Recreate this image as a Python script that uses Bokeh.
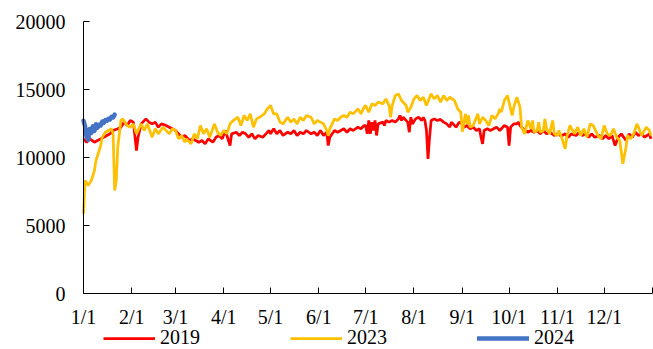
from bokeh.plotting import figure
from bokeh.models import Range1d, FixedTicker, Legend, LegendItem
from bokeh.embed import file_html
from bokeh.resources import INLINE

# ---- data (day of year, 0 = 1/1) ----
day_2019 = [0, 2, 4, 7, 9, 11, 13, 15, 17, 19, 22, 24, 26, 28, 30, 32, 34, 35, 37, 40,
            42, 44, 46, 48, 50, 53, 55, 57, 59, 61, 63, 65, 68, 70, 72, 74, 76, 78, 80, 83,
            85, 87, 89, 91, 93, 94, 95, 98, 100, 102, 104, 106, 108, 110, 112, 115, 117, 119, 120, 122,
            124, 126, 128, 131, 133, 135, 137, 139, 141, 143, 146, 148, 150, 152, 154, 156, 157, 158, 161, 163,
            165, 167, 169, 171, 173, 176, 178, 180, 181, 182, 183, 184, 185, 186, 187, 188, 189, 192, 193, 194,
            196, 198, 200, 202, 203, 204, 205, 208, 209, 210, 211, 213, 215, 217, 218, 219, 220, 221, 222, 223,
            225, 227, 229, 231, 233, 235, 236, 239, 241, 243, 244, 246, 248, 250, 252, 254, 255, 256, 257, 259,
            261, 263, 265, 267, 270, 272, 273, 274, 276, 278, 279, 280, 282, 285, 287, 289, 291, 293, 295, 297,
            299, 302, 304, 306, 307, 309, 311, 313, 316, 318, 320, 322, 324, 326, 328, 331, 333, 335, 337, 339,
            341, 343, 345, 348, 350, 352, 354, 356, 358, 360, 363, 364]
val_2019 = [11370, 11125, 11370, 11125, 11250, 11370, 11490, 11620, 11740, 11985, 12110, 12230, 12600, 12350, 12720, 12600, 10510, 11490, 12470, 12840,
            12600, 12470, 12600, 12230, 12470, 12350, 12230, 12110, 11985, 11740, 11490, 11620, 11250, 11370, 11250, 11125, 11250, 11000, 11370, 11125,
            11490, 11620, 11370, 11985, 11250, 10880, 11740, 11860, 11620, 11860, 11740, 11490, 11740, 11370, 11620, 11490, 11740, 11985, 11740, 12110,
            11740, 11985, 11620, 11860, 11740, 11985, 11620, 11860, 11740, 11985, 11740, 11860, 11620, 11985, 11620, 11860, 10880, 11490, 11985, 11860,
            11985, 12110, 11860, 12110, 11985, 12230, 12110, 12350, 12350, 11740, 12720, 11740, 12600, 11985, 12720, 11620, 12470, 12600, 12350, 12720,
            12600, 12720, 12600, 12840, 13090, 12720, 12960, 12600, 11860, 12960, 12470, 12840, 12960, 12720, 12960, 12720, 12000, 9900, 11500, 12720,
            12840, 12720, 12800, 12600, 12470, 12230, 12600, 12230, 12600, 12470, 12230, 12350, 12110, 12230, 11985, 12110, 11490, 11000, 11985, 12110,
            11985, 12110, 12230, 11985, 12350, 12230, 10880, 12230, 12470, 12470, 12600, 12350, 12110, 11860, 11985, 11860, 11985, 11740, 11985, 11740,
            11860, 11620, 11740, 11620, 11620, 11740, 11490, 11740, 11620, 11860, 11620, 11740, 11490, 11740, 11490, 11620, 11370, 11620, 11370, 11620,
            10880, 11490, 11740, 11250, 11740, 11490, 11860, 11620, 11740, 11490, 11740, 11370]

day_2023 = [0, 1, 3, 5, 7, 8, 10, 11, 12, 14, 16, 18, 19, 20, 21, 22, 24, 25, 28, 30,
            32, 34, 37, 39, 41, 44, 46, 48, 51, 55, 57, 59, 61, 63, 65, 66, 69, 71, 73, 75,
            77, 79, 81, 84, 86, 88, 90, 92, 94, 96, 99, 101, 103, 105, 107, 109, 111, 113, 116, 118,
            120, 122, 124, 126, 128, 131, 133, 135, 137, 139, 141, 143, 146, 148, 150, 152, 154, 156, 157, 158,
            161, 163, 165, 167, 169, 171, 173, 176, 178, 180, 181, 183, 185, 187, 189, 192, 194, 196, 197, 198,
            200, 202, 204, 207, 208, 210, 212, 214, 216, 218, 220, 223, 225, 227, 229, 231, 233, 235, 238, 240,
            242, 243, 245, 246, 247, 248, 250, 253, 254, 256, 258, 260, 262, 264, 266, 267, 268, 270, 272, 274,
            275, 276, 278, 280, 281, 283, 285, 287, 288, 289, 291, 292, 293, 295, 296, 297, 299, 301, 302, 304,
            305, 307, 309, 310, 312, 315, 317, 319, 321, 323, 325, 327, 330, 332, 334, 336, 338, 340, 342, 344,
            346, 348, 349, 351, 353, 355, 356, 358, 361, 363, 364]
val_2023 = [5860, 8310, 7940, 8310, 9040, 9780, 10510, 10880, 11490, 11860, 11985, 12110, 11740, 7570, 8310, 10760, 12720, 12840, 12350, 12230,
            12470, 11740, 12470, 11985, 12470, 11490, 12110, 11740, 12230, 11740, 12110, 11985, 11370, 11620, 11120, 11370, 11000, 11740, 11370, 12350,
            11740, 12110, 11490, 12470, 11860, 11620, 11985, 11740, 12470, 12720, 12960, 12350, 13090, 12720, 13210, 12230, 12840, 12960, 13210, 13580,
            13820, 13200, 13210, 12600, 12470, 12960, 12600, 12840, 12470, 12960, 12720, 13090, 12960, 12470, 12720, 12600, 12470, 11985, 11620, 12110,
            12840, 12720, 12960, 13090, 12960, 13330, 13210, 13580, 13210, 13700, 13820, 13330, 13950, 13820, 14070, 13950, 14310, 13820, 12960, 13820,
            14560, 14680, 14190, 13820, 13330, 13700, 14310, 14560, 14190, 14430, 13820, 14680, 14310, 14560, 14070, 14560, 14190, 14430, 14190, 13580,
            13330, 11900, 13210, 12470, 13090, 12230, 12350, 13210, 12470, 12960, 12720, 12350, 13090, 12840, 13210, 13580, 13330, 14190, 14560, 13580,
            13090, 13700, 14430, 13700, 12230, 11740, 12720, 12110, 12720, 11860, 11985, 12600, 11860, 11985, 12840, 12110, 11740, 12720, 11740, 11620,
            11985, 11370, 10640, 11490, 12350, 11740, 12230, 11620, 12110, 11490, 12470, 12350, 11620, 11370, 12350, 11740, 11620, 12110, 11490, 11250,
            9540, 10760, 11620, 11370, 11740, 12470, 12230, 11620, 12230, 11985, 11620]

day_2024 = [0, 1, 2, 3, 4, 5, 6, 7, 8, 9, 10, 11, 12, 13, 14, 15, 16, 17, 18, 19, 20]
val_2024 = [12700, 12300, 11500, 11300, 12100, 11800, 12300, 11950, 12450, 12200, 12400, 12350, 12650, 12550, 12750, 12700, 12850, 12800, 13000, 12950, 13150]

month_ticks = [0, 31, 59, 90, 120, 151, 181, 212, 243, 273, 304, 334, 365]
month_labels = ["1/1", "2/1", "3/1", "4/1", "5/1", "6/1", "7/1", "8/1", "9/1", "10/1", "11/1", "12/1", ""]
y_ticks = [0, 5000, 10000, 15000, 20000]
series_names = ["2019", "2023", "2024"]
series_colors = ["#FF0000", "#FFC000", "#4472C4"]

FONT = "Liberation Serif"

# The frame fills the whole canvas; the axes are pinned at x=0 / y=0.
W, H = 653, 349
AX_LEFT, AX_RIGHT, AX_TOP, AX_BOTTOM = 83, 652, 21, 293   # pixel box of the data area
X0, X1 = 0, 365
Y0, Y1 = 0, 20000
xs = (X1 - X0) / (AX_RIGHT - AX_LEFT)
ys = (Y1 - Y0) / (AX_BOTTOM - AX_TOP)
x_range = Range1d(X0 - AX_LEFT * xs, X1 + (W - AX_RIGHT) * xs)
y_range = Range1d(Y0 - (H - AX_BOTTOM) * ys, Y1 + AX_TOP * ys)

p = figure(width=W, height=H, output_backend="svg", toolbar_location=None,
           x_range=x_range, y_range=y_range,
           min_border_left=0, min_border_right=0, min_border_top=0, min_border_bottom=0)
p.background_fill_color = "white"
p.border_fill_color = "white"
p.outline_line_color = None
p.xgrid.visible = False
p.ygrid.visible = False

r1 = p.line(day_2019, val_2019, line_color=series_colors[0], line_width=2.75)
r2 = p.line(day_2023, val_2023, line_color=series_colors[1], line_width=2.75)
r3 = p.line(day_2024, val_2024, line_color=series_colors[2], line_width=4.5, line_cap="round", line_join="round")

for ax in (p.xaxis[0], p.yaxis[0]):
    ax.axis_line_color = "#000000"
    ax.axis_line_width = 1
    ax.major_tick_line_color = "#000000"
    ax.major_tick_in = 6
    ax.major_tick_out = 0
    ax.minor_tick_line_color = None
    ax.major_label_text_font = FONT
    ax.major_label_text_font_size = "20px"
    ax.major_label_text_color = "#000000"

p.xaxis[0].fixed_location = 0
p.xaxis[0].bounds = (X0, X1)
p.xaxis[0].ticker = FixedTicker(ticks=month_ticks)
p.xaxis[0].major_label_overrides = {t: l for t, l in zip(month_ticks, month_labels)}
p.xaxis[0].major_label_standoff = 12
p.yaxis[0].fixed_location = 0
p.yaxis[0].bounds = (Y0, Y1)
p.yaxis[0].ticker = FixedTicker(ticks=y_ticks)
p.yaxis[0].major_label_standoff = 18

legend = Legend(items=[LegendItem(label=n, renderers=[r]) for n, r in zip(series_names, [r1, r2, r3])],
                orientation="horizontal", location=(103, 0),
                label_text_font=FONT, label_text_font_size="20px", label_text_color="#000000",
                glyph_width=52, glyph_height=16, label_height=16, label_standoff=5,
                spacing=90, padding=0, margin=0, border_line_color=None, background_fill_alpha=0)
p.add_layout(legend, "center")

open("out.html", "w").write(file_html(p, INLINE))
